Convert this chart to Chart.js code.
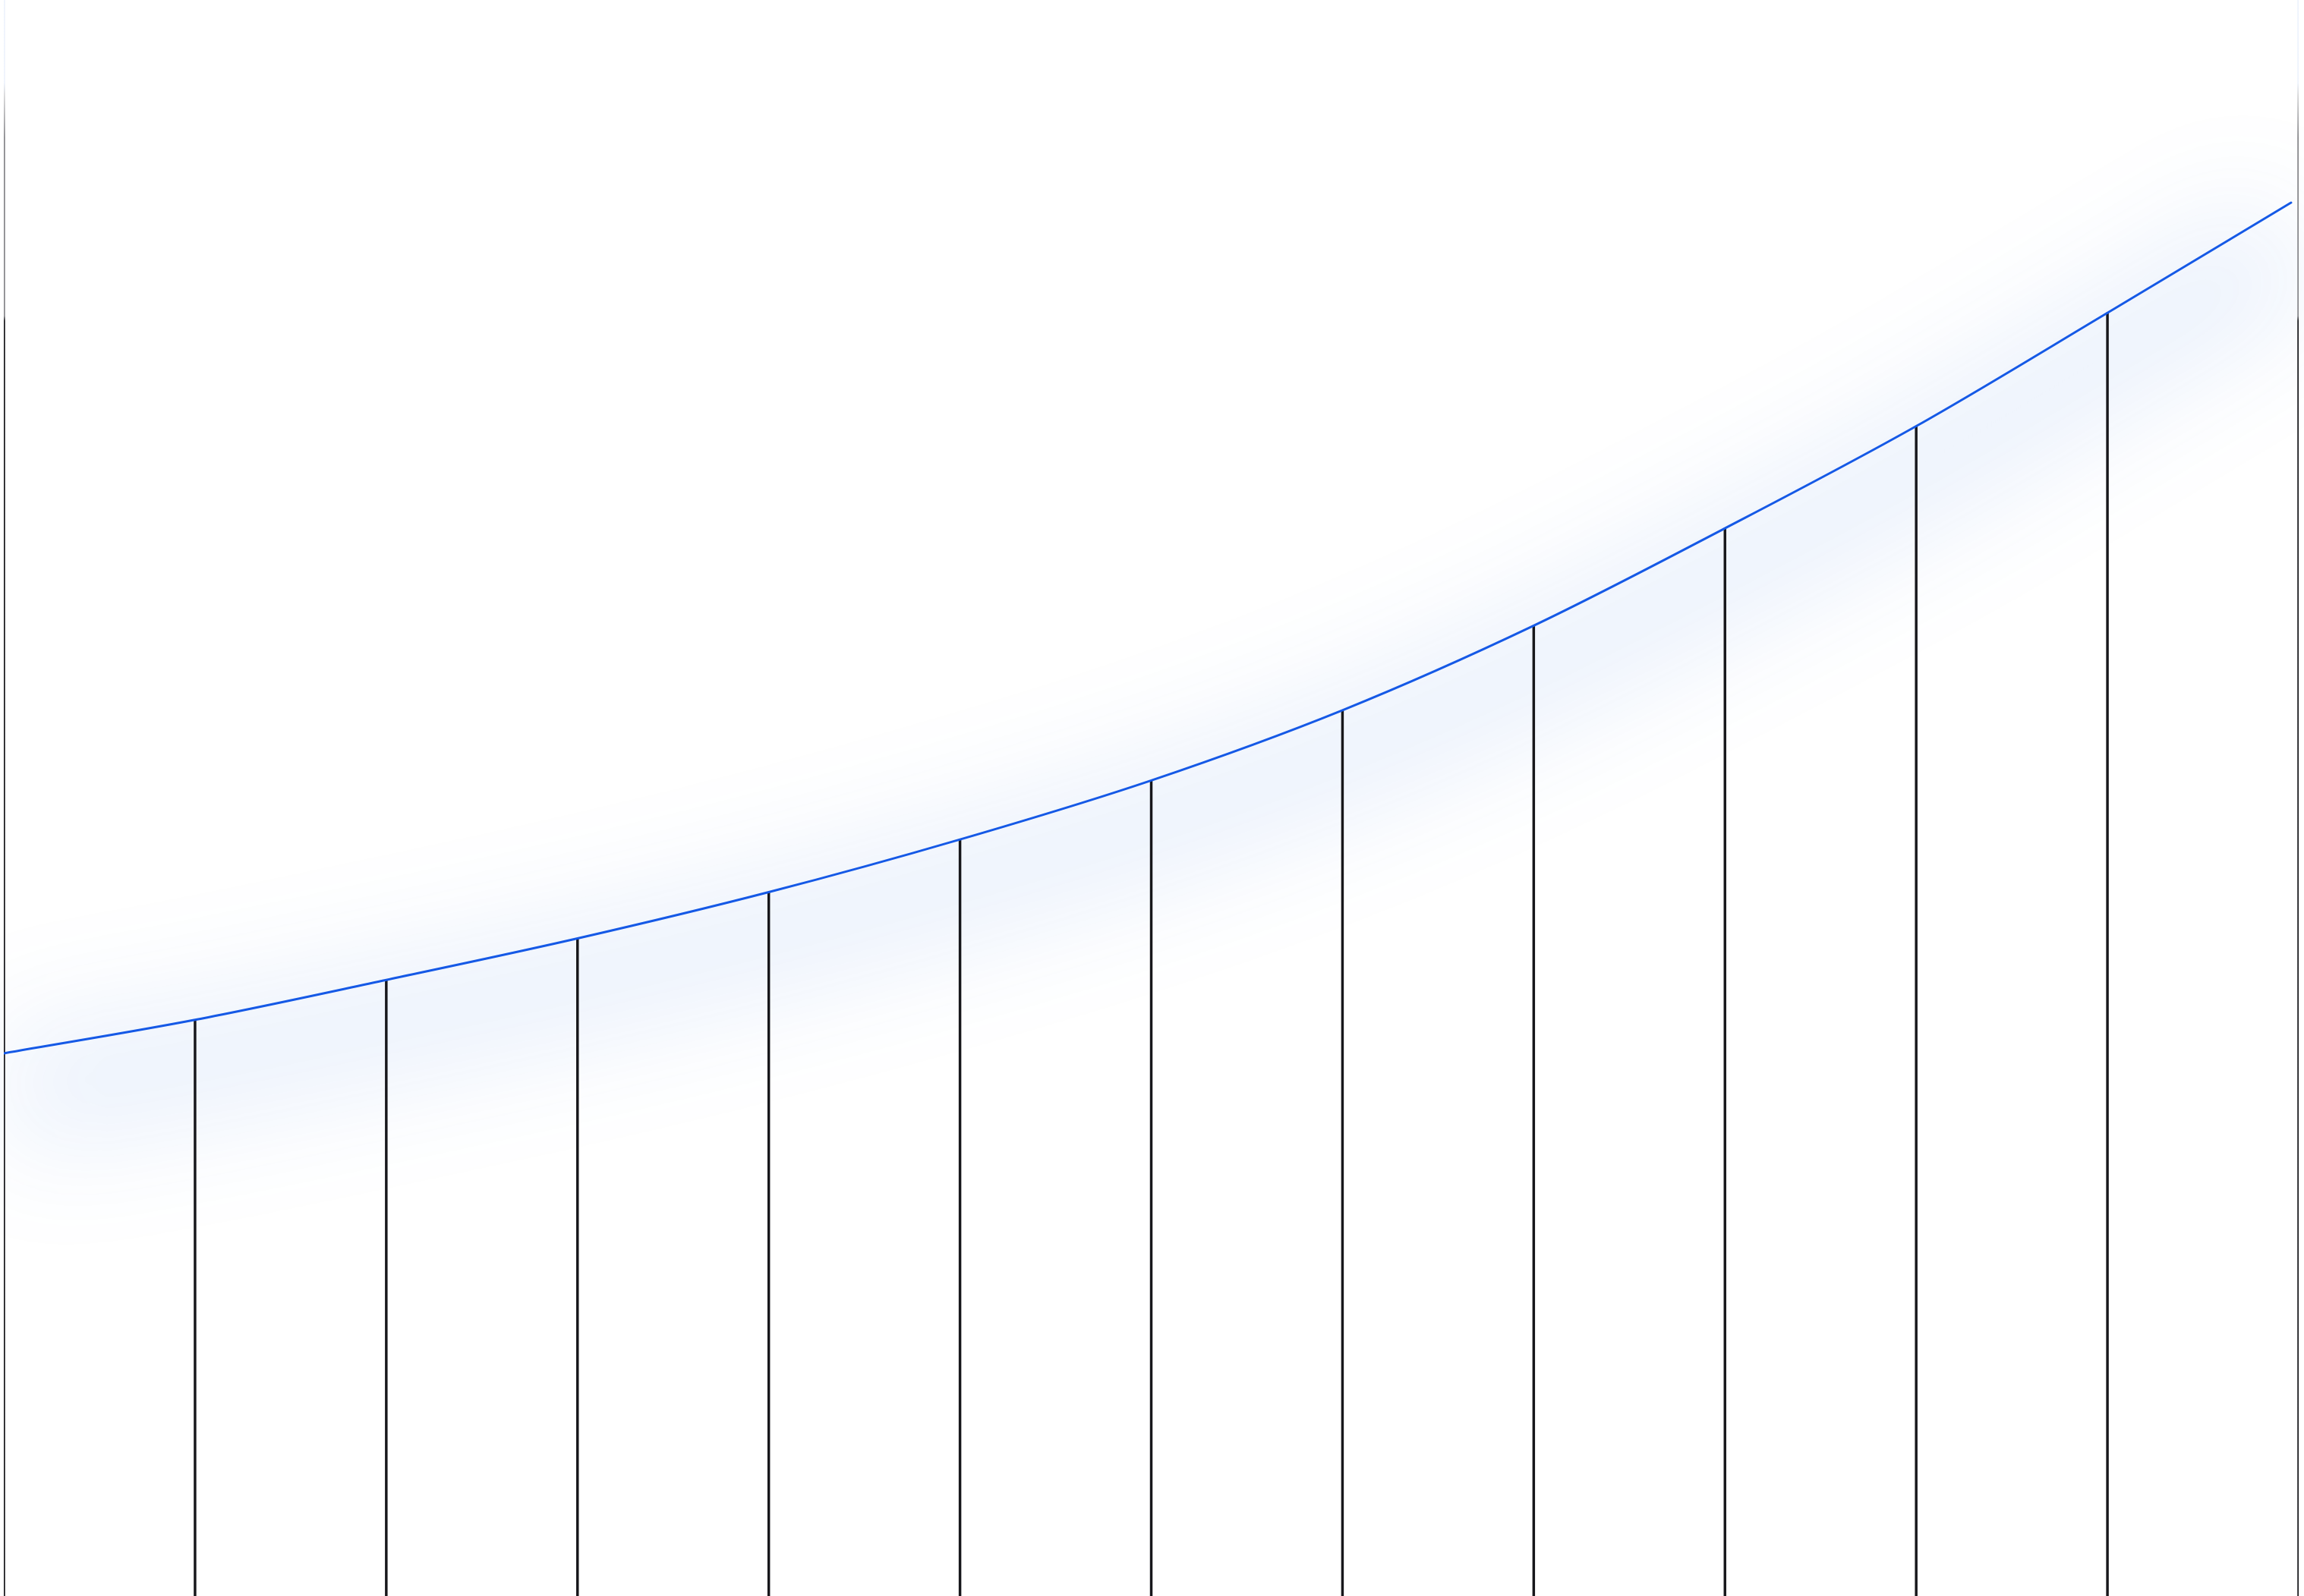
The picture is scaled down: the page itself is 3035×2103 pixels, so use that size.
<!DOCTYPE html>
<html lang="en">
<head>
    <meta charset="UTF-8">
    <title>Growth Curve</title>
    <script src="https://cdn.jsdelivr.net/npm/chart.js"></script>
    <style>
        html, body { margin: 0; padding: 0; background: #ffffff; overflow: hidden; }
        canvas { display: block; }
    </style>
</head>
<body>
    <canvas id="growth-chart" width="3035" height="2103"></canvas>
    <script>
        // positions along the axis (0..12) and curve values (percent of chart height)
        const steps = [0, 1, 2, 3, 4, 5, 6, 7, 8, 9, 10, 11];
        const stepValues = [34.0, 36.1, 38.6, 41.2, 44.1, 47.4, 51.1, 55.5, 60.8, 66.9, 73.3, 80.4];
        const curveEndX = 11.96;
        const curveEndValue = 87.3;
        const edgeSteps = [0, 12];
        const axisMax = 100;

        const curvePoints = steps.map((s, i) => ({ x: s, y: stepValues[i] }));
        curvePoints.push({ x: curveEndX, y: curveEndValue });
        const dropPoints = steps.slice(1).map((s, i) => ({ x: s, y: stepValues[i + 1] }));
        const edgePoints = edgeSteps.map(s => ({ x: s, y: axisMax }));

        // fading colour for the two edge lines
        function edgeColor(context) {
            const chart = context.chart;
            const area = chart.chartArea;
            if (!area) return '#17171b';
            const g = chart.ctx.createLinearGradient(0, area.top, 0, area.bottom);
            g.addColorStop(0, 'rgba(205,220,248,0.35)');
            g.addColorStop(0.052, 'rgba(205,220,248,0.35)');
            g.addColorStop(0.06, 'rgba(134,134,138,0.35)');
            g.addColorStop(0.086, 'rgba(134,134,138,1)');
            g.addColorStop(0.198, 'rgba(134,134,138,1)');
            g.addColorStop(0.201, 'rgba(23,23,27,1)');
            g.addColorStop(1, 'rgba(23,23,27,1)');
            return g;
        }

        // soft blurred glow under the curve
        const glowPlugin = {
            id: 'glow',
            beforeDatasetDraw(chart, args) {
                if (args.meta.label !== 'glow') return;
                const ctx = chart.ctx;
                ctx.save();
                ctx.filter = 'blur(70px)';
                ctx.translate(0, 55);
            },
            afterDatasetDraw(chart, args) {
                if (args.meta.label !== 'glow') return;
                chart.ctx.restore();
            }
        };

        const ctx = document.getElementById('growth-chart').getContext('2d');
        new Chart(ctx, {
            data: {
                datasets: [
                    {
                        type: 'line',
                        label: 'curve',
                        data: curvePoints,
                        borderColor: '#1559e6',
                        borderWidth: 3,
                        borderCapStyle: 'round',
                        pointRadius: 0,
                        cubicInterpolationMode: 'monotone',
                        fill: false,
                        order: 1
                    },
                    {
                        type: 'bar',
                        label: 'drops',
                        data: dropPoints,
                        backgroundColor: '#17171b',
                        barThickness: 2.8,
                        grouped: false,
                        order: 2
                    },
                    {
                        type: 'bar',
                        label: 'edges',
                        data: edgePoints,
                        backgroundColor: edgeColor,
                        barThickness: 2.8,
                        grouped: false,
                        order: 2
                    },
                    {
                        type: 'line',
                        label: 'glow',
                        data: curvePoints,
                        borderColor: 'rgba(30,100,225,0.085)',
                        borderWidth: 170,
                        borderCapStyle: 'butt',
                        pointRadius: 0,
                        cubicInterpolationMode: 'monotone',
                        fill: false,
                        clip: false,
                        order: 3
                    }
                ]
            },
            options: {
                responsive: false,
                animation: false,
                layout: { padding: { left: 5, right: 7, top: 0, bottom: 0 } },
                plugins: {
                    legend: { display: false },
                    tooltip: { enabled: false }
                },
                scales: {
                    x: { type: 'linear', min: 0, max: 12, offset: false, display: false },
                    y: { min: 0, max: axisMax, display: false }
                }
            },
            plugins: [glowPlugin]
        });
    </script>
</body>
</html>
